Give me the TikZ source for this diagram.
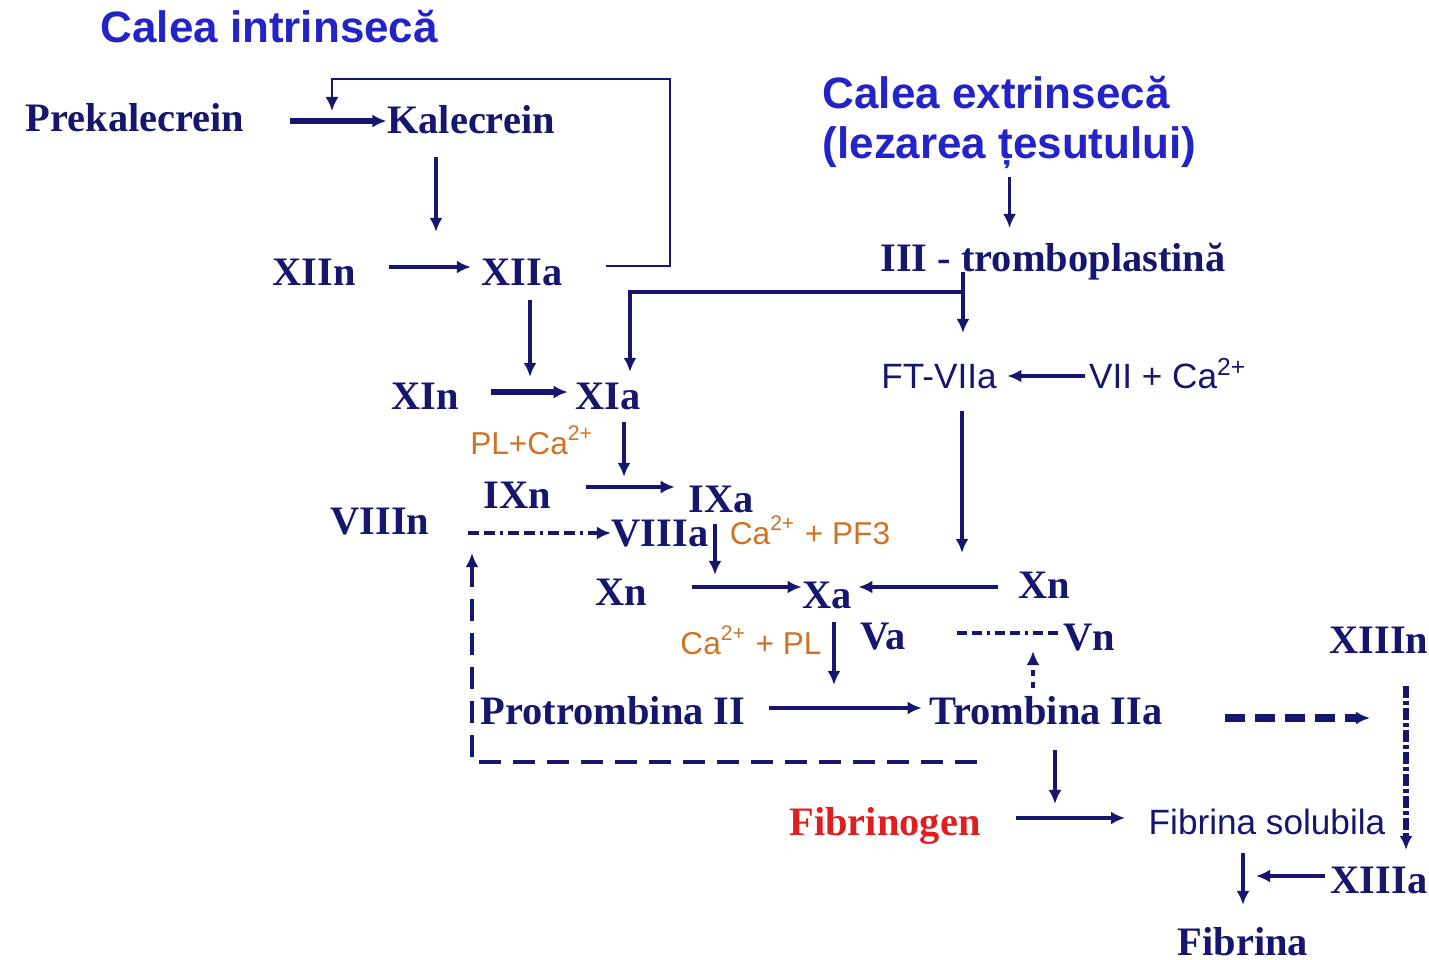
\documentclass[tikz,border=0pt]{standalone}
\usepackage{fontspec}
\setmainfont{Liberation Serif}
\newfontfamily\sansfam{Liberation Sans}
\usetikzlibrary{arrows.meta,calc}
\definecolor{CoagNavy}{RGB}{22,22,110}
\definecolor{CoagBlue}{RGB}{35,35,200}
\definecolor{CoagOrange}{RGB}{205,115,40}
\definecolor{CoagRed}{RGB}{225,30,30}

\begin{document}
\begin{tikzpicture}[
  x=0.01cm,y=-0.01cm,
  fac/.style={text=CoagNavy,font=\fontsize{11.5}{14}\selectfont\bfseries,
    inner sep=0pt,text height=7.6pt,text depth=0pt},
  sns/.style={text=CoagNavy,font=\fontsize{10}{12}\selectfont\sansfam,
    inner sep=0pt,text height=7pt,text depth=0pt},
  ion/.style={sns,text=CoagOrange,font=\fontsize{9}{11}\selectfont\sansfam},
  titlu/.style={text=CoagBlue,font=\fontsize{12.5}{14.2}\selectfont\sansfam\bfseries,
    align=left,inner sep=0pt,anchor=west},
  arr/.style={-{Latex[length=1.4mm,width=1.3mm]},line width=1pt,CoagNavy},
  arrT/.style={arr,line width=1.6pt},
  arrL/.style={arr,line width=0.7pt},
  arrD/.style={arr,dash pattern=on 2.2mm off 1.2mm},
  arrD2/.style={arr,dash pattern=on 0.6mm off 0.6mm},
  arrDD/.style={arr,dash pattern=on 1.1mm off 0.5mm on 1.1mm off 0.5mm on 0.3mm off 0.5mm},
  arrDT/.style={arr,line width=2.4pt,dash pattern=on 2mm off 1mm},
  arrDD2/.style={arr,line width=1.5pt,dash pattern=on 1.2mm off 0.3mm on 0.4mm off 0.3mm},
  dd/.style={CoagNavy,line width=1pt,dash pattern=on 1mm off 0.5mm on 1mm off 0.5mm on 0.3mm off 0.5mm}
]
  \useasboundingbox (0,0) rectangle (1429,960);

  % calea intrinseca
  \node[titlu] (tintr) at (100,27) {Calea intrinsecă};
  \node[fac] (prek) at (135,118) {Prekalecrein};
  \node[fac] (kal) at (471,120) {Kalecrein};
  \node[fac] (xiin) at (314,272) {XIIn};
  \node[fac] (xiia) at (522,272) {XIIa};
  \node[fac] (xin) at (425,396) {XIn};
  \node[fac] (xia) at (608,396) {XIa};
  \node[ion] (plca) at (532,442) {PL+Ca\textsuperscript{2+}};
  \node[fac] (ixn) at (517,495) {IXn};
  \node[fac] (ixa) at (721,499) {IXa};
  \node[fac] (viiin) at (380,521) {VIIIn};
  \node[fac] (viiia) at (660,533) {VIIIa};
  \node[ion] (capf) at (810,532) {Ca\textsuperscript{2+} + PF3};

  % calea extrinseca
  \node[titlu] (textr) at (822,122) {Calea extrinsecă\\(lezarea țesutului)};
  \node[fac] (tpl) at (1053,258) {III - tromboplastină};
  \node[sns] (ftvii) at (939,376) {FT-VIIa};
  \node[sns] (vii) at (1168,376) {VII + Ca\textsuperscript{2+}};

  % calea comuna
  \node[fac] (xn) at (621,592) {Xn};
  \node[fac] (xa) at (827,595) {Xa};
  \node[fac] (xnr) at (1044,585) {Xn};
  \node[ion] (capl) at (751,642) {Ca\textsuperscript{2+} + PL};
  \node[fac] (va) at (883,636) {Va};
  \node[fac] (vn) at (1089,637) {Vn};
  \node[fac] (prot) at (613,711) {Protrombina II};
  \node[fac] (tromb) at (1046,711) {Trombina IIa};
  \node[fac,text=CoagRed] (fgen) at (885,822) {Fibrinogen};
  \node[sns] (fsol) at (1267,822) {Fibrina solubila};
  \node[fac] (xiiin) at (1379,640) {XIIIn};
  \node[fac] (xiiia) at (1379,880) {XIIIa};
  \node[fac] (fibr) at (1243,942) {Fibrina};

  \coordinate (fb) at (332,111);
  \coordinate (k1) at (670,79);
  \coordinate (jn) at (963,292);
  \coordinate (fb2) at (472,531);
  \coordinate (fx) at (1406,718);

  \draw[arrT,shorten <=4.5mm] ([yshift=-0.3mm]prek.east) -- ([yshift=-0.3mm]prek.east -| kal.west);
  \draw[arrL,shorten <=4.3mm] ([yshift=0.6mm]xiia.east) -| (k1) -| (fb);
  \draw[arr,shorten <=2.3mm,shorten >=2.6mm] ([xshift=-3.5mm]kal.south) -- ([xshift=-3.5mm]kal.south |- xiia.north);
  \draw[arr,shorten <=3.3mm,shorten >=1mm] ([yshift=0.5mm]xiin.east) -- ([yshift=0.5mm]xiin.east -| xiia.west);
  \draw[arr,shorten <=1.4mm,shorten >=0.5mm] ([xshift=0.8mm]xiia.south) -- ([xshift=0.8mm]xiia.south |- xia.north);
  \draw[arrT,shorten <=3.2mm,shorten >=0.7mm] ([yshift=0.4mm]xin.east) -- ([yshift=0.4mm]xin.east -| xia.west);

  \draw[arrL,shorten <=0.8mm,shorten >=1.6mm] (textr.south) -- (textr.south |- tpl.north);
  \draw[arr,shorten >=3mm] ([xshift=-9mm]tpl.south) -- ([xshift=-9mm]tpl.south |- ftvii.north);
  \draw[arr,shorten >=1mm] (jn) -| ([xshift=2.2mm]xia.north);
  \draw[arr,shorten <=0.3mm,shorten >=1mm] (vii.west) -- (ftvii.east);
  \draw[arr,shorten <=2.2mm,shorten >=1.8mm] ([xshift=2.3mm]ftvii.south) -- ([xshift=2.3mm]ftvii.south |- xnr.north);

  \draw[arr,shorten <=1.2mm,shorten >=0.8mm] ([xshift=1.6mm]xia.south) -- ([xshift=1.6mm]xia.south |- ixa.north);
  \draw[arr,shorten <=3.5mm,shorten >=1.3mm] ([yshift=0.8mm]ixn.east) -- ([yshift=0.8mm]ixn.east -| ixa.west);
  \draw[arrDD,shorten <=3.8mm] (viiin.east |- viiia.west) -- (viiia.west);
  \draw[arr,shorten <=1.1mm,shorten >=0.6mm] ([xshift=-0.6mm]ixa.south) -- ([xshift=-0.6mm]ixa.south |- xa.north);
  \draw[arr,shorten <=4.4mm] ([yshift=0.5mm]xn.east) -- ([yshift=0.5mm]xn.east -| xa.west);
  \draw[arr,shorten <=1.9mm,shorten >=0.6mm] ([yshift=-0.2mm]xnr.west) -- ([yshift=-0.2mm]xnr.west -| xa.east);
  \draw[arr,shorten <=1.3mm,shorten >=1.2mm] ([xshift=0.7mm]xa.south) -- ([xshift=0.7mm]xa.south |- prot.north);
  \draw[arr,shorten <=2.3mm,shorten >=0.7mm] ([yshift=0.3mm]prot.east) -- ([yshift=0.3mm]prot.east -| tromb.west);
  \draw[dd,shorten <=5mm] ([yshift=0.3mm]va.east) -- ([yshift=0.3mm]va.east -| vn.west);
  \draw[arrD2,shorten <=0.9mm] ([xshift=-1.3mm]tromb.north) -- ([xshift=-1.3mm]tromb.north |- vn.south);
  \draw[arrD,shorten >=2.2mm] ([xshift=-6.9mm,yshift=-3.7mm]tromb.south) -| (fb2);

  \draw[arr,shorten <=2.5mm,shorten >=0.5mm] ([xshift=0.9mm]tromb.south) -- ([xshift=0.9mm]tromb.south |- fsol.north);
  \draw[arr,shorten <=3.5mm,shorten >=2.3mm] ([yshift=0.4mm]fgen.east) -- ([yshift=0.4mm]fgen.east -| fsol.west);
  \draw[arrDT,shorten <=6.2mm,shorten >=3.6mm] (tromb.east |- fx) -- (fx);
  \draw[arrDD2,shorten <=3.2mm,shorten >=1.6mm] ([xshift=2.7mm]xiiin.south) -- ([xshift=2.7mm]xiiin.south |- xiiia.north);
  \draw[arr,shorten <=0.5mm,shorten >=1.3mm] ([yshift=0.4mm]xiiia.west) -- ([yshift=0.4mm]xiiia.west -| fibr.north);
  \draw[arr,shorten <=1.8mm,shorten >=2.3mm] (fibr.north |- fsol.south) -- (fibr.north);
\end{tikzpicture}
\end{document}
